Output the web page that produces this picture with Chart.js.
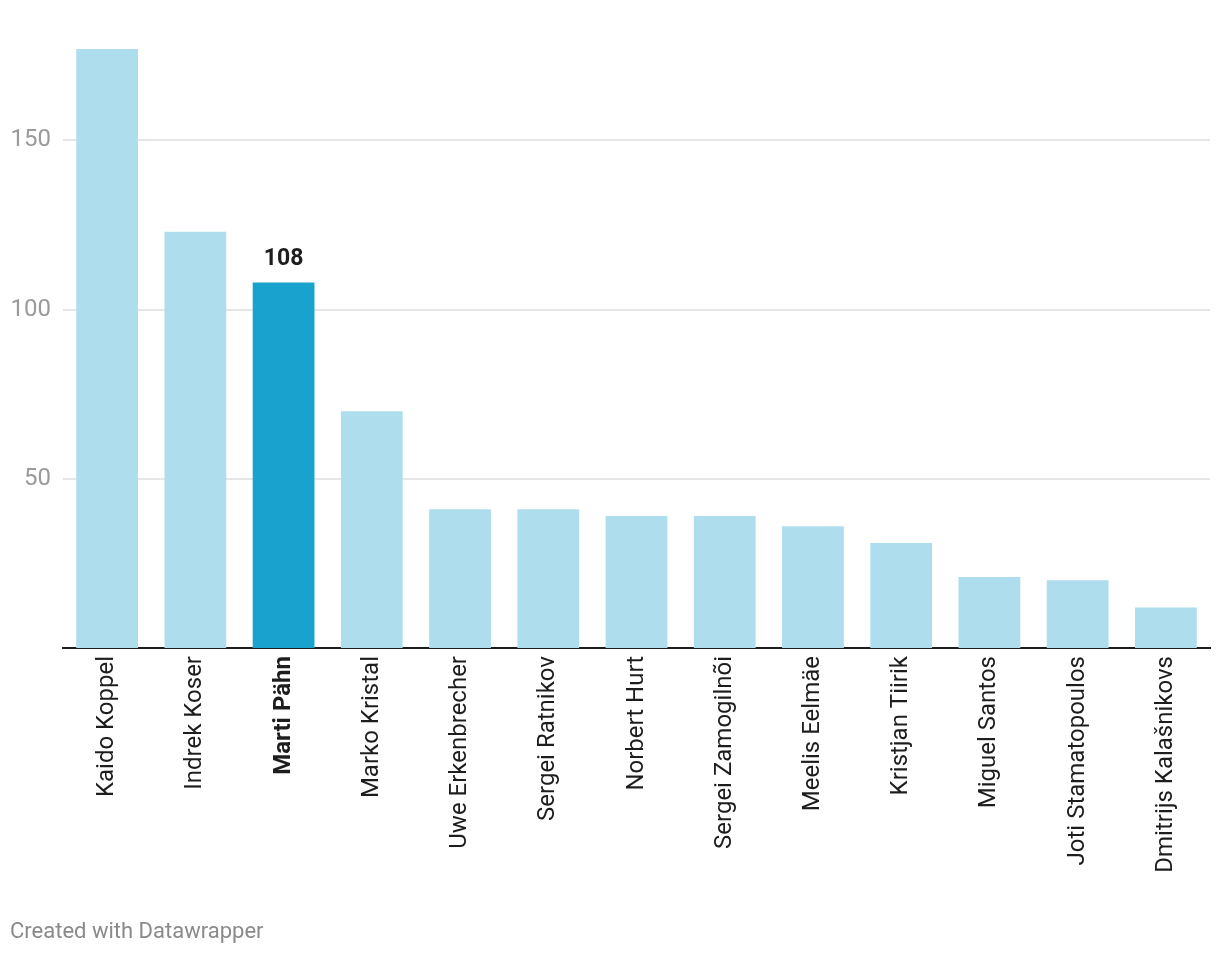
<!DOCTYPE html>
<html>
<head>
<meta charset="utf-8">
<script src="https://cdn.jsdelivr.net/npm/chart.js@4/dist/chart.umd.min.js"></script>
<style>
  html, body { margin: 0; padding: 0; background: #fff; }
  #wrap { position: absolute; left: 0; top: 0; width: 1220px; height: 958px; }
  #footer { position: absolute; left: 10px; top: 918px; font-family: Roboto, sans-serif; font-size: 22px; color: #8a8a8a; }
</style>
</head>
<body>
<div id="wrap"><canvas id="c" width="1220" height="958"></canvas></div>
<div id="footer">Created with Datawrapper</div>
<script>
const categories = ["Kaido Koppel", "Indrek Koser", "Marti Pähn", "Marko Kristal", "Uwe Erkenbrecher", "Sergei Ratnikov", "Norbert Hurt", "Sergei Zamogilnõi", "Meelis Eelmäe", "Kristjan Tiirik", "Miguel Santos", "Joti Stamatopoulos", "Dmitrijs Kalašnikovs"];
const values = [177, 123, 108, 70, 41, 41, 39, 39, 36, 31, 21, 20, 12];
const highlighted = "Marti Pähn";
const yTicks = [50, 100, 150];

const hiIndex = categories.indexOf(highlighted);

const valueLabelPlugin = {
  id: 'valueLabel',
  afterDatasetsDraw(chart) {
    const meta = chart.getDatasetMeta(0);
    const bar = meta.data[hiIndex];
    const ctx = chart.ctx;
    ctx.save();
    ctx.font = 'bold 23px Roboto';
    ctx.fillStyle = '#1d1d1d';
    ctx.textAlign = 'center';
    ctx.textBaseline = 'bottom';
    ctx.fillText(String(values[hiIndex]), bar.x, bar.y - 12);
    ctx.restore();
  }
};

new Chart(document.getElementById('c'), {
  type: 'bar',
  data: {
    labels: categories,
    datasets: [{
      data: values,
      backgroundColor: categories.map((c, i) => i === hiIndex ? '#18a2cd' : '#aedded'),
      barPercentage: 0.7,
      categoryPercentage: 1.0
    }]
  },
  options: {
    responsive: false,
    animation: false,
    devicePixelRatio: 1,
    layout: { padding: { top: 0, right: 10, left: 0, bottom: 0 } },
    plugins: { legend: { display: false }, tooltip: { enabled: false } },
    scales: {
      x: {
        grid: { display: false, drawTicks: false },
        border: { display: true, color: '#1d1d1d', width: 2 },
        ticks: {
          maxRotation: 90, minRotation: 90, autoSkip: false, padding: 8,
          color: '#1d1d1d',
          font: (ctx) => ({ family: 'Roboto', size: 24, weight: ctx.index === hiIndex ? 'bold' : 'normal' })
        },
        afterFit: (s) => { s.height = 310; }
      },
      y: {
        min: 0, max: 183.7,
        afterBuildTicks: (s) => { s.ticks = yTicks.map(v => ({ value: v })); },
        grid: { color: '#e6e6e6', lineWidth: 2, drawTicks: false },
        border: { display: false },
        ticks: { color: '#9a9a9a', padding: 12, font: { family: 'Roboto', size: 24 } },
        afterFit: (s) => { s.width = 63; }
      }
    }
  },
  plugins: [valueLabelPlugin]
});
</script>
</body>
</html>
